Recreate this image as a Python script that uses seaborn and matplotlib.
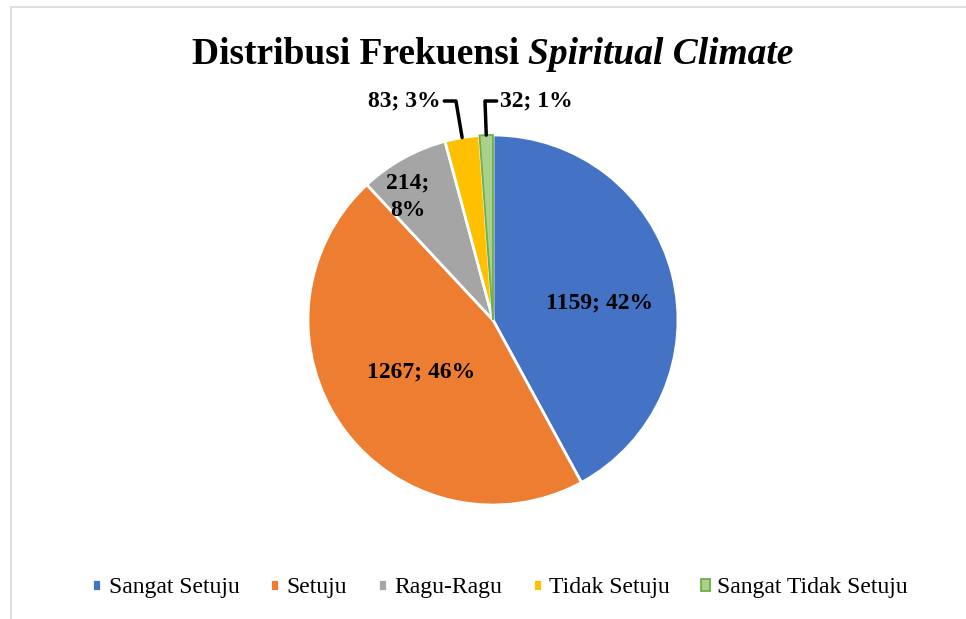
import matplotlib.pyplot as plt
import numpy as np
import seaborn as sns
from matplotlib.patches import Rectangle

# data
categories = ["Sangat Setuju", "Setuju", "Ragu-Ragu", "Tidak Setuju", "Sangat Tidak Setuju"]
counts = [1159, 1267, 214, 83, 32]
slice_colors = ["#4472C4", "#ED7D31", "#A5A5A5", "#FFC000", "#A9D18E"]
edge_colors = ["white", "white", "white", "white", "#70AD47"]

W, H = 966, 619
CX, CY, R = 493, H - 320, 185

sns.set_theme(style="white")
plt.rcParams["font.family"] = ["Liberation Serif", "DejaVu Serif"]
plt.rcParams["text.color"] = "black"

fig = plt.figure(figsize=(W / 100, H / 100), dpi=100)
ax = fig.add_axes([0, 0, 1, 1])

wedges, _ = ax.pie(counts, colors=sns.color_palette(slice_colors), startangle=90,
                   counterclock=False, center=(CX, CY), radius=R,
                   wedgeprops=dict(linewidth=2))
for w, ec in zip(wedges, edge_colors):
    w.set_edgecolor(ec)
    if ec != "white":
        w.set_linewidth(1.3)

ax.set_xlim(0, W)
ax.set_ylim(0, H)
ax.axis("off")

total = sum(counts)
labels = [f"{c}; {round(c / total * 100)}%" for c in counts]

# labels inside the pie
inside = {0: (600, 303), 1: (421, 372), 2: (408, 197)}
for i, (x, y) in inside.items():
    txt = labels[i].replace(" ", "\n") if i == 2 else labels[i]
    ax.text(x, H - y, txt, ha="center", va="center", fontsize=17,
            fontweight="bold", linespacing=1.4, color="black")

# labels with leader lines for the small slices
outside = {3: (441, 101, "right"), 4: (500, 101, "left")}
for i, (x, y, ha) in outside.items():
    w = wedges[i]
    mid = np.deg2rad((w.theta1 + w.theta2) / 2)
    tip = (CX + R * np.cos(mid), CY + R * np.sin(mid))
    ax.annotate(labels[i], xy=tip, xytext=(x, H - y), ha=ha, va="center",
                fontsize=17, fontweight="bold", color="black",
                arrowprops=dict(arrowstyle="-", color="black", lw=2.5,
                                shrinkA=0, shrinkB=0,
                                connectionstyle=f"angle,angleA=0,angleB={np.rad2deg(mid):.1f}"))

# title with the italic part
ty = H - 64
t1 = ax.text(0, ty, "Distribusi Frekuensi", fontsize=27, fontweight="bold",
             va="baseline", color="black")
t2 = ax.text(0, ty, "Spiritual Climate", fontsize=27, fontweight="bold",
             fontstyle="italic", va="baseline", color="black")
fig.canvas.draw()
r = fig.canvas.get_renderer()
w1 = t1.get_window_extent(r).width
w2 = t2.get_window_extent(r).width
gap = 9
x0 = CX - (w1 + gap + w2) / 2
t1.set_x(x0)
t2.set_x(x0 + w1 + gap)

leg = fig.legend(wedges, categories, loc="center", bbox_to_anchor=(500 / W, 1 - 588 / H),
                 ncol=5, frameon=False, fontsize=17, handlelength=0.4, handleheight=0.4,
                 handletextpad=0.3, columnspacing=1.3)
for t in leg.get_texts():
    t.set_color("black")

fig.add_artist(Rectangle((11 / W, -0.1), 2, (H - 7) / H + 0.1, transform=fig.transFigure,
                         fill=False, edgecolor="#D9D9D9", linewidth=1.2))

plt.savefig("out.png", dpi=100)
plt.close()
